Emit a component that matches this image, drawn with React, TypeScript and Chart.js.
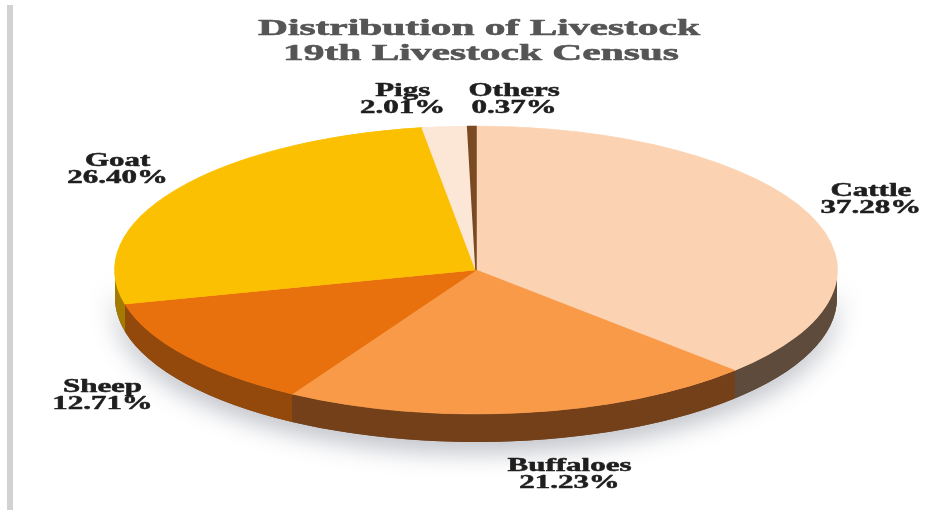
import React, { useEffect, useRef } from "react";
import { Chart, registerables } from "chart.js";

Chart.register(...registerables);

// ---- data ----
const categories = ["Cattle", "Buffaloes", "Sheep", "Goat", "Pigs", "Others"];
const shares = [37.28, 21.23, 12.71, 26.4, 2.01, 0.37];
const percentLabels = ["37.28%", "21.23%", "12.71%", "26.40%", "2.01%", "0.37%"];
const titleLines = ["Distribution of Livestock", "19th Livestock Census"];

// ---- styles ----
const topColors = ["#FBD3B2", "#F99A48", "#E8710E", "#FCC002", "#FCE6D6", "#7A4A22"];
const sideColors = ["#5E4B3C", "#74401A", "#94490C", "#A57A00", "#B8A090", "#4A2A10"];
// label nudges (layout only) [dx, dy]
const labelNudges = [
  [7, 1],
  [38, -6],
  [-35, -12],
  [-9, 2],
  [-37, 12],
  [43, 13],
];

const W = 940;
const H = 511;
const CX = 476;
const CY = 270;
const RX = 361;
const RY = 144;
const DEPTH = 28;
const GAPX = 60;
const GAPY = 40;
const SX = 1.72;

function stretchedText(
  ctx: CanvasRenderingContext2D,
  text: string,
  x: number,
  y: number,
  sx: number,
  stroke = 0
) {
  ctx.save();
  ctx.translate(x, y);
  ctx.scale(sx, 1);
  ctx.textAlign = "center";
  ctx.textBaseline = "alphabetic";
  if (stroke > 0) {
    ctx.lineWidth = stroke;
    ctx.lineJoin = "round";
    ctx.strokeStyle = ctx.fillStyle as string;
    ctx.strokeText(text, 0, 0);
  }
  ctx.fillText(text, 0, 0);
  ctx.restore();
}

const pie3d = {
  id: "pie3d",
  beforeDatasetsDraw(chart: any) {
    const ctx: CanvasRenderingContext2D = chart.ctx;
    const arcs = chart.getDatasetMeta(0).data as any[];
    if (!arcs.length) return;
    // shadow + base side
    ctx.save();
    ctx.shadowColor = "rgba(60,70,90,0.35)";
    ctx.shadowBlur = 24;
    ctx.shadowOffsetY = 10;
    ctx.fillStyle = "#6b4a2a";
    ctx.beginPath();
    ctx.ellipse(CX, CY, RX, RY, 0, 0, Math.PI, false);
    ctx.lineTo(CX - RX, CY + DEPTH);
    ctx.ellipse(CX, CY + DEPTH, RX, RY, 0, Math.PI, 0, true);
    ctx.closePath();
    ctx.fill();
    ctx.restore();

    arcs.forEach((a, i) => {
      const { startAngle, endAngle } = a.getProps(["startAngle", "endAngle"], true);
      const s = Math.max(startAngle, 0);
      const e = Math.min(endAngle, Math.PI);
      if (e <= s) return;
      ctx.save();
      ctx.fillStyle = sideColors[i];
      ctx.beginPath();
      ctx.ellipse(CX, CY, RX, RY, 0, s, e, false);
      ctx.lineTo(CX + RX * Math.cos(e), CY + RY * Math.sin(e) + DEPTH);
      ctx.ellipse(CX, CY + DEPTH, RX, RY, 0, e, s, true);
      ctx.closePath();
      ctx.fill();
      ctx.restore();
    });

    const { x, y, outerRadius } = arcs[0].getProps(["x", "y", "outerRadius"], true);
    ctx.save();
    ctx.translate(CX, CY);
    ctx.scale(RX / outerRadius, RY / outerRadius);
    ctx.translate(-x, -y);
  },
  afterDatasetsDraw(chart: any) {
    const arcs = chart.getDatasetMeta(0).data as any[];
    if (!arcs.length) return;
    chart.ctx.restore();
  },
  afterDraw(chart: any) {
    const ctx: CanvasRenderingContext2D = chart.ctx;
    // left border line
    ctx.save();
    ctx.fillStyle = "#d2d2d2";
    ctx.fillRect(7, 5, 6, 505);
    ctx.restore();

    // title
    ctx.save();
    ctx.fillStyle = "#555555";
    ctx.font = 'bold 23px "Liberation Serif", "Times New Roman", serif';
    const w1 = ctx.measureText(titleLines[0]).width;
    const tsx = 442 / w1;
    stretchedText(ctx, titleLines[0], 479, 35, tsx, 0.6);
    stretchedText(ctx, titleLines[1], 481, 60, tsx, 0.6);
    ctx.restore();

    // labels
    const arcs = chart.getDatasetMeta(0).data as any[];
    ctx.save();
    ctx.fillStyle = "#1e1e1e";
    ctx.font = 'bold 18px "Liberation Serif", "Times New Roman", serif';
    arcs.forEach((a, i) => {
      const { startAngle, endAngle } = a.getProps(["startAngle", "endAngle"], true);
      const mid = (startAngle + endAngle) / 2;
      const c = Math.cos(mid);
      const s = Math.sin(mid);
      const lx = CX + (RX + GAPX) * c + labelNudges[i][0];
      const ly = CY + (RY + GAPY) * s + (s > 0 ? DEPTH : 0) + labelNudges[i][1];
      stretchedText(ctx, categories[i], lx, ly - 3, SX, 0.5);
      stretchedText(ctx, percentLabels[i], lx, ly + 14, SX, 0.5);
    });
    ctx.restore();
  },
};

export default function App() {
  const ref = useRef<HTMLCanvasElement>(null);
  useEffect(() => {
    document.body.style.margin = "0";
    const canvas = ref.current;
    if (!canvas) return;
    const chart = new Chart(canvas, {
      type: "pie",
      data: {
        labels: categories,
        datasets: [
          {
            data: shares,
            backgroundColor: topColors,
            borderColor: topColors,
            borderWidth: 1,
            clip: false,
          } as any,
        ],
      },
      options: {
        responsive: false,
        animation: false,
        events: [],
        layout: { padding: 20 },
        plugins: {
          legend: { display: false },
          tooltip: { enabled: false },
          title: { display: false },
        },
      },
      plugins: [pie3d],
    });
    return () => chart.destroy();
  }, []);
  return (
    <div style={{ width: W, height: H, background: "#ffffff" }}>
      <canvas ref={ref} width={W} height={H} style={{ display: "block" }} />
    </div>
  );
}
